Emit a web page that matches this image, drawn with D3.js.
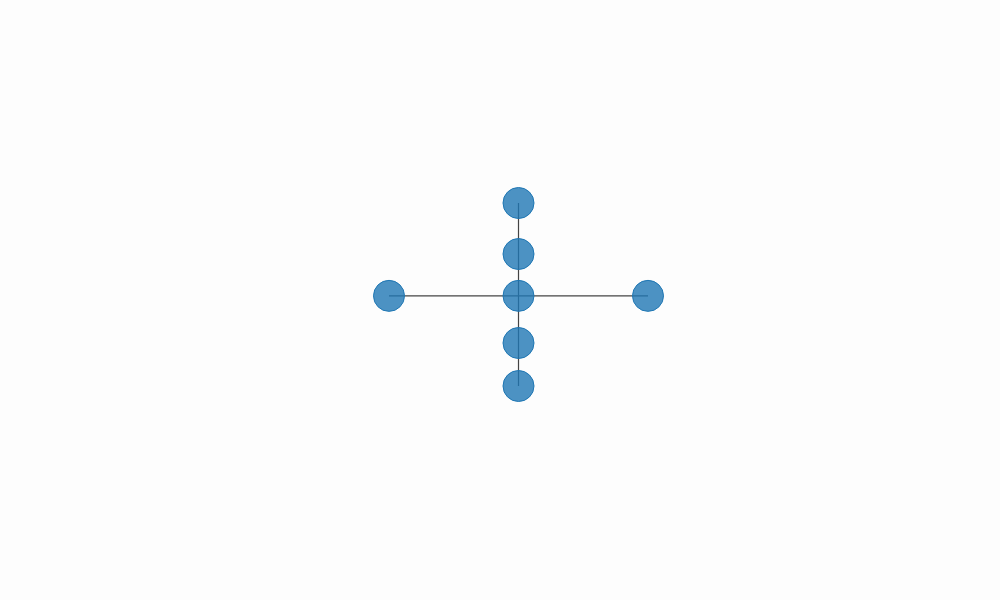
<!DOCTYPE html>
<html>
<head>
<meta charset="utf-8">
<script src="https://cdn.jsdelivr.net/npm/d3@7"></script>
<style>
  body { margin: 0; background: #fdfdfd; }
</style>
</head>
<body>
<svg id="chart" width="1000" height="600"></svg>
<script>
// --- data ---
const nodeIds = ["top", "upper", "center", "lower", "bottom", "left", "right"];
const nodeX = [0, 0, 0, 0, 0, -1, 1];
const nodeY = [2, 0.885, -0.03, -1.06, -2, -0.03, -0.03];
const linkSource = ["top", "upper", "center", "lower", "center", "center"];
const linkTarget = ["upper", "center", "lower", "bottom", "left", "right"];

const svg = d3.select("#chart");
const x = d3.scaleLinear().domain([-1, 1]).range([389, 648]);
const y = d3.scaleLinear().domain([-2, 2]).range([386, 203]);

const nodes = nodeIds.map((id, i) => ({ id, x: nodeX[i], y: nodeY[i] }));
const byId = new Map(nodes.map(n => [n.id, n]));
const links = linkSource.map((s, i) => ({ source: byId.get(s), target: byId.get(linkTarget[i]) }));

svg.append("rect").attr("width", 1000).attr("height", 600).attr("fill", "#fdfdfd");

svg.append("g").selectAll("line")
  .data(links).join("line")
  .attr("x1", d => x(d.source.x)).attr("y1", d => y(d.source.y))
  .attr("x2", d => x(d.target.x)).attr("y2", d => y(d.target.y))
  .attr("stroke", "#444").attr("stroke-width", 1.2);

svg.append("g").selectAll("circle")
  .data(nodes).join("circle")
  .attr("cx", d => x(d.x)).attr("cy", d => y(d.y))
  .attr("r", 15.5)
  .attr("fill", "#1f77b4").attr("fill-opacity", 0.8)
  .attr("stroke", "#1f77b4").attr("stroke-width", 1);
</script>
</body>
</html>
